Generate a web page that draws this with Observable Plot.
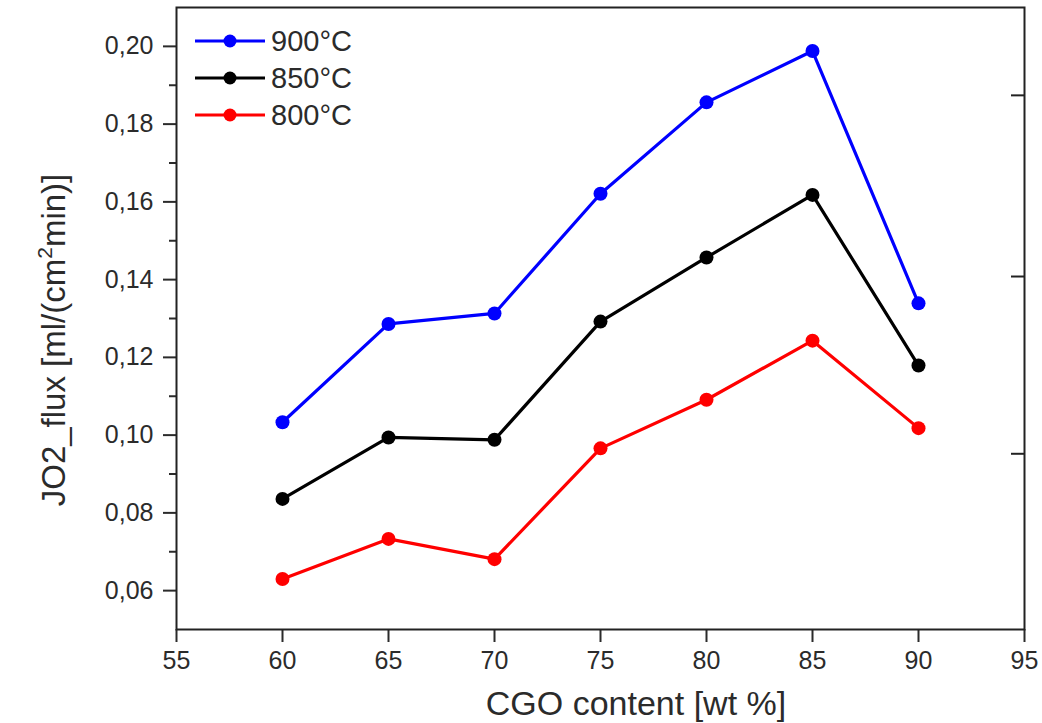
<!DOCTYPE html>
<html><head><meta charset="utf-8">
<script src="https://cdn.jsdelivr.net/npm/d3@7"></script>
<script src="https://cdn.jsdelivr.net/npm/@observablehq/plot@0.6"></script>
<style>
body{margin:0;background:#fff}
#chart{position:relative;width:1042px;height:723px}
</style>
</head><body><div id="chart"></div>
<script>
// ---- data ----
const cgo = [60, 65, 70, 75, 80, 85, 90];
const seriesNames = ["900°C", "850°C", "800°C"];
const seriesColors = ["#0000ff", "#000000", "#ff0000"];
const flux900 = [0.1033, 0.1286, 0.1313, 0.1621, 0.1856, 0.1988, 0.1339];
const flux850 = [0.0836, 0.0994, 0.0988, 0.1292, 0.1457, 0.1618, 0.1179];
const flux800 = [0.0630, 0.0733, 0.0681, 0.0966, 0.1091, 0.1243, 0.1018];
const xTicks = [55, 60, 65, 70, 75, 80, 85, 90, 95];
const yTicks = [0.06, 0.08, 0.10, 0.12, 0.14, 0.16, 0.18, 0.20];
const yMinorTicks = [0.07, 0.09, 0.11, 0.13, 0.15, 0.17, 0.19];
const rightTicks = [0.0952, 0.1408, 0.1874];
const xLabel = "CGO content [wt %]";
const yLabelParts = ["JO2_flux [ml/(cm", "2", "min)]"];

const seriesValues = [flux900, flux850, flux800];
const data = [];
seriesNames.forEach((name, i) => {
  cgo.forEach((c, j) => data.push({series: name, cgo: c, flux: seriesValues[i][j]}));
});

// ---- layout ----
const W = 1042, H = 723, mL = 176, mR = 18, mT = 7, mB = 94;
const FONT = "'Liberation Sans', Arial, sans-serif";
const INK = "#2b2b2b";

const plot = Plot.plot({
  width: W, height: H,
  marginLeft: mL, marginRight: mR, marginTop: mT, marginBottom: mB,
  style: {fontFamily: FONT, fontSize: "25px", color: INK, background: "#fff"},
  x: {domain: [55, 95]},
  y: {domain: [0.05, 0.21]},
  color: {domain: seriesNames, range: seriesColors},
  marks: [
    Plot.axisX({ticks: xTicks, tickSize: 13, tickPadding: 9, tickFormat: d => String(d),
      label: null, strokeWidth: 2, fontSize: 25}),
    Plot.axisY({ticks: yTicks, tickSize: 13, tickPadding: 10,
      tickFormat: d => d.toFixed(2).replace(".", ","), label: null, strokeWidth: 2, fontSize: 25}),
    Plot.axisY({ticks: yMinorTicks, tickSize: 7, tickFormat: () => "", label: null, strokeWidth: 2}),
    Plot.tickY(rightTicks, {y: d => d, insetLeft: (W - mL - mR) - 13, stroke: "#222", strokeWidth: 2}),
    Plot.frame({stroke: "#222", strokeWidth: 2}),
    Plot.line(data, {x: "cgo", y: "flux", z: "series", stroke: "series", strokeWidth: 3.2}),
    Plot.dot(data, {x: "cgo", y: "flux", fill: "series", r: 7})
  ]
});
document.getElementById("chart").appendChild(plot);

const svg = d3.select(plot);

// axis labels
svg.append("text")
  .attr("x", 636).attr("y", 715)
  .attr("text-anchor", "middle")
  .attr("font-family", FONT).attr("font-size", 34).attr("fill", INK)
  .text(xLabel);

const yl = svg.append("text")
  .attr("transform", "translate(65,340) rotate(-90)")
  .attr("text-anchor", "middle")
  .attr("font-family", FONT).attr("font-size", 33).attr("fill", INK);
yl.append("tspan").text(yLabelParts[0]);
yl.append("tspan").attr("dy", -13).attr("font-size", 21).text(yLabelParts[1]);
yl.append("tspan").attr("dy", 13).text(yLabelParts[2]);

// legend
const lg = svg.append("g").attr("transform", "translate(195,41)");
seriesNames.forEach((name, i) => {
  const g = lg.append("g").attr("transform", `translate(0,${i * 37})`);
  g.append("line").attr("x1", 0).attr("x2", 70).attr("y1", 0).attr("y2", 0)
    .attr("stroke", seriesColors[i]).attr("stroke-width", 3);
  g.append("circle").attr("cx", 35).attr("cy", 0).attr("r", 6.5).attr("fill", seriesColors[i]);
  g.append("text").attr("x", 76).attr("y", 0).attr("dy", "0.36em")
    .attr("text-anchor", "start")
    .attr("font-family", FONT).attr("font-size", 29).attr("fill", INK).text(name);
});
</script>
</body></html>
